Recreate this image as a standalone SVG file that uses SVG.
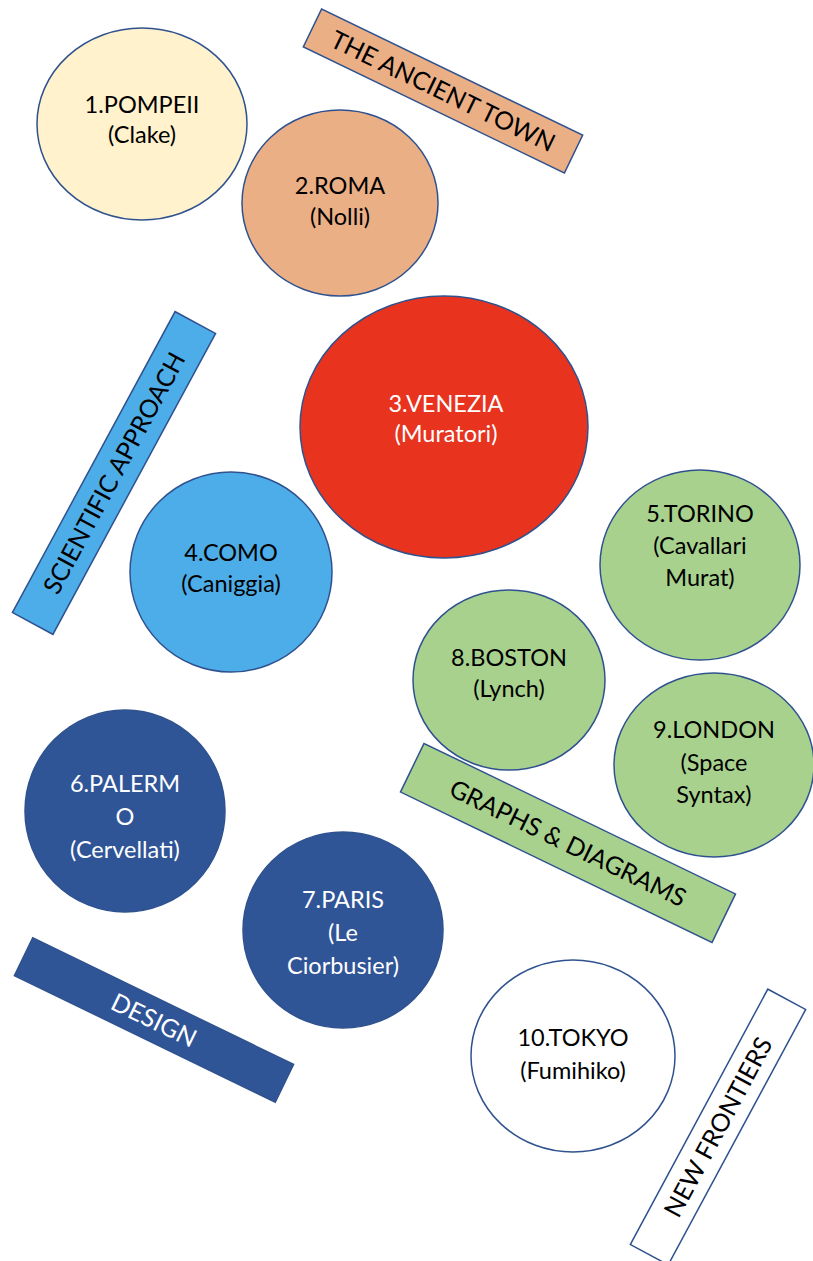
<svg xmlns="http://www.w3.org/2000/svg" width="813" height="1261" viewBox="0 0 813 1261">
<style>
.n{stroke:#2F528F;stroke-width:1.5}
.t{font-family:Lato,"Liberation Sans",sans-serif;font-size:23.5px;text-anchor:middle;fill:#000}
.l{font-family:Lato,"Liberation Sans",sans-serif;font-size:25px;text-anchor:middle;fill:#000}
.w{fill:#fff}
</style>
<rect width="813" height="1261" fill="#fff"/>
<g id="connectors"></g>
<g id="n1"><ellipse class="n" cx="142" cy="124" rx="105" ry="96" fill="#FFF2CC"/><text class="t" x="142" y="113">1.POMPEII<tspan x="142" y="143">(Clake)</tspan></text></g>
<g id="n2"><ellipse class="n" cx="340" cy="203" rx="98" ry="93" fill="#EBAF86"/><text class="t" x="340" y="194">2.ROMA<tspan x="340" y="225">(Nolli)</tspan></text></g>
<g id="n3"><ellipse class="n" cx="444" cy="427" rx="144" ry="131" fill="#E8331F"/><text class="t w" x="446" y="412">3.VENEZIA<tspan x="446" y="442">(Muratori)</tspan></text></g>
<g id="n4"><ellipse class="n" cx="231" cy="572" rx="101" ry="100" fill="#4DADE8"/><text class="t" x="231" y="561">4.COMO<tspan x="231" y="592">(Caniggia)</tspan></text></g>
<g id="n5"><ellipse class="n" cx="700" cy="565" rx="100" ry="95" fill="#A9D18E"/><text class="t" x="700" y="522">5.TORINO<tspan x="700" y="554">(Cavallari</tspan><tspan x="700" y="586">Murat)</tspan></text></g>
<g id="n8"><ellipse class="n" cx="509" cy="680" rx="96" ry="90" fill="#A9D18E"/><text class="t" x="509" y="666">8.BOSTON<tspan x="509" y="697">(Lynch)</tspan></text></g>
<g id="n9"><ellipse class="n" cx="714" cy="765" rx="100" ry="92" fill="#A9D18E"/><text class="t" x="714" y="738">9.LONDON<tspan x="714" y="771">(Space</tspan><tspan x="714" y="803">Syntax)</tspan></text></g>
<g id="n6"><ellipse class="n" cx="125" cy="811" rx="100" ry="101" fill="#2F5597"/><text class="t w" x="125" y="792">6.PALERM<tspan x="125" y="825">O</tspan><tspan x="125" y="858">(Cervellati)</tspan></text></g>
<g id="n7"><ellipse class="n" cx="343" cy="930" rx="100" ry="98" fill="#2F5597"/><text class="t w" x="343" y="908">7.PARIS<tspan x="343" y="941">(Le</tspan><tspan x="343" y="974">Ciorbusier)</tspan></text></g>
<g id="n10"><ellipse class="n" cx="573" cy="1056" rx="102" ry="96" fill="#FFFFFF"/><text class="t" x="573" y="1046">10.TOKYO<tspan x="573" y="1079">(Fumihiko)</tspan></text></g>
<g id="lab-ancient" transform="translate(443,91) rotate(25.8)"><rect class="n" x="-145" y="-21" width="290" height="42" fill="#EBAF86"/><text class="l" x="0" y="9">THE ANCIENT TOWN</text></g>
<g id="lab-scientific" transform="translate(114,473) rotate(-61.6)"><rect class="n" x="-171" y="-23" width="342" height="46" fill="#4DADE8"/><text class="l" x="0" y="9">SCIENTIFIC APPROACH</text></g>
<g id="lab-graphs" transform="translate(568,843) rotate(25.8)"><rect class="n" x="-173" y="-27" width="346" height="54" fill="#A9D18E"/><text class="l" x="0" y="9">GRAPHS &amp; DIAGRAMS</text></g>
<g id="lab-design" transform="translate(154,1020) rotate(25.9)"><rect class="n" x="-145" y="-21" width="290" height="42" fill="#2F5597"/><text class="l w" x="0" y="9">DESIGN</text></g>
<g id="lab-frontiers" transform="translate(718,1127) rotate(-61.7)"><rect class="n" x="-145" y="-21.5" width="290" height="43" fill="#FFFFFF"/><text class="l" x="0" y="9">NEW FRONTIERS</text></g>
</svg>
